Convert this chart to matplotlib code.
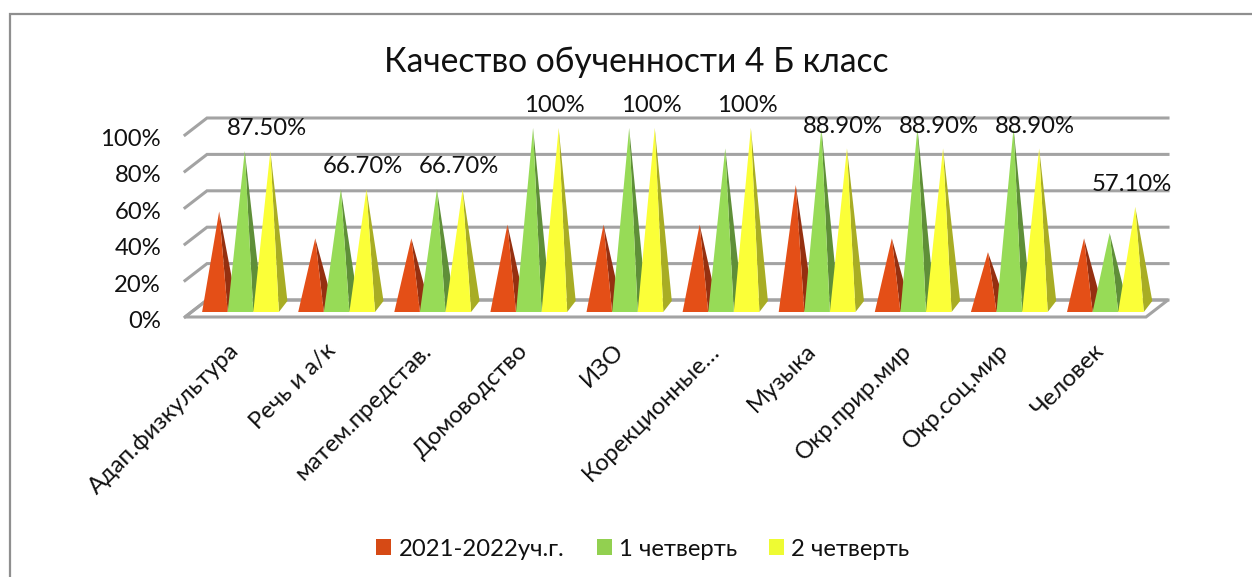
import matplotlib
matplotlib.use("Agg")
import matplotlib.pyplot as plt
from matplotlib.patches import Polygon, Patch

plt.rcParams['font.family'] = ['Lato', 'Open Sans', 'DejaVu Sans']

categories = ["Адап.физкультура", "Речь и а/к", "матем.представ.", "Домоводство", "ИЗО",
              "Корекционные…", "Музыка", "Окр.прир.мир", "Окр.соц.мир", "Человек"]
series_names = ["2021-2022уч.г.", "1 четверть", "2 четверть"]
year_2122 = [54.6, 40, 40, 47.5, 47.5, 47.5, 69, 40, 32.5, 40]
quarter_1 = [87.5, 66.7, 66.7, 100, 100, 88.9, 100, 100, 100, 42.9]
quarter_2 = [87.5, 66.7, 66.7, 100, 100, 100, 88.9, 88.9, 88.9, 57.1]
data_labels = ["87.50%", "66.70%", "66.70%", "100%", "100%", "100%", "88.90%", "88.90%", "88.90%", "57.10%"]
y_ticks = [0, 20, 40, 60, 80, 100]

W, H = 1252, 577
PX_X = 96.1   # pixels per category
PX_Y = 1.84   # pixels per percent
X0_PX, Y0_PX = 240.5, 312

fig = plt.figure(figsize=(W / 100, H / 100), dpi=100, facecolor="white")
ax = fig.add_axes([0, 0, 1, 1])
ax.set_xlim(-X0_PX / PX_X, (W - X0_PX) / PX_X)
ax.set_ylim((Y0_PX - H) / PX_Y, Y0_PX / PX_Y)
ax.axis("off")

fx = 1 / PX_X  # one pixel in x data units
fy = 1 / PX_Y  # one pixel in y data units

# chart frame: only the left and top edges are inside the picture
fl_x = (9.5 - X0_PX) * fx
fr_x = (W + 5 - X0_PX) * fx
ft_y = (Y0_PX - 13.5) * fy
fb_y = (Y0_PX - H - 5) * fy
ax.plot([fl_x, fl_x, fr_x], [fb_y, ft_y, ft_y], color="#8f8f8f", lw=1.6, solid_joinstyle="miter", zorder=1)

# walls and floor
left_x, right_x = (185 - X0_PX) * fx, (1146 - X0_PX) * fx
dx, dy = 22 * fx, 17 * fy
wall_scale = 182 / 184
floor = (Y0_PX - 317) * fy
grid_c = "#a3a3a3"
ax.add_patch(Polygon([(left_x, floor), (left_x + dx, floor + dy), (right_x + dx, floor + dy), (right_x, floor)],
                     closed=True, fc="white", ec=grid_c, lw=2.2, zorder=2, joinstyle="miter"))
for v in y_ticks:
    yv = floor + v * wall_scale
    ax.plot([left_x, left_x + dx, right_x + dx], [yv, yv + dy, yv + dy], color=grid_c, lw=2.2,
            solid_joinstyle="miter", zorder=2)
    ax.text(left_x - 24 * fx, yv - 2.5 * fy, f"{v}%", ha="right", va="center_baseline", fontsize=17.2,
            color="#111111", zorder=6)

# pyramids
faces = [("#e44f17", "#953010"), ("#97db57", "#5f8f38"), ("#fbff38", "#a8ad24")]
bw = 25.6 * fx
bar_off = [-bw, 0, bw]
ddx, ddy = 8.5 * fx, 11 * fy
z = 3
for i in range(len(categories)):
    for s, vals in enumerate([year_2122, quarter_1, quarter_2]):
        cx = i + bar_off[s]
        v = vals[i]
        apex = (cx + ddx / 2, v)
        fr = (cx + bw / 2, 0)
        fl = (cx - bw / 2, 0)
        br = (cx + bw / 2 + ddx, ddy)
        ax.add_patch(Polygon([fr, br, apex], closed=True, fc=faces[s][1], ec="none", zorder=z))
        ax.add_patch(Polygon([fl, fr, apex], closed=True, fc=faces[s][0], ec="none", zorder=z + 0.1))
        z += 0.2
    ax.annotate(data_labels[i], (i + bar_off[2] + ddx / 2, quarter_2[i]), xytext=(-2.8, 17.5), textcoords="offset points",
                ha="center", va="center_baseline", fontsize=17.2, color="#111111", zorder=20)
    ax.annotate(categories[i], (i - 0.11, floor), xytext=(-1, -16.5), textcoords="offset points",
                ha="right", va="top", rotation=45, rotation_mode="anchor", fontsize=17.2, color="#111111", zorder=20)

# title
ax.text((636.5 - X0_PX) * fx, (Y0_PX - 59) * fy, "Качество обученности 4 Б класс", ha="center", va="center_baseline",
        fontsize=24.2, color="#111111")

# legend
handles = [Patch(fc=c, ec="none") for c in ("#d64a15", "#92d050", "#eefb33")]
ax.legend(handles, series_names, ncol=3, loc="center", bbox_to_anchor=(643 / W, 1 - 549 / H), frameon=False,
          fontsize=17.2, handlelength=0.63, handleheight=0.63, handletextpad=0.3, columnspacing=1.35,
          labelcolor="#111111")

fig.savefig("out.png", dpi=100)
